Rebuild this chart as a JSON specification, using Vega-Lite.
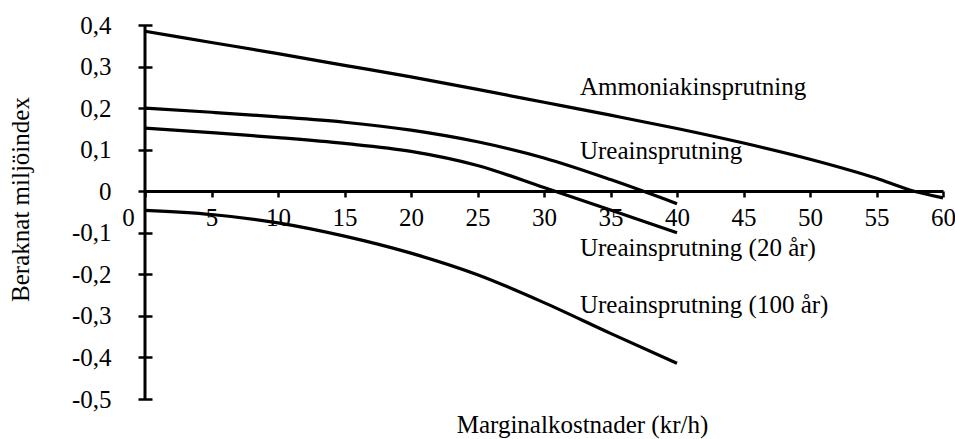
{
  "$schema": "https://vega.github.io/schema/vega-lite/v6.json",
  "width": 798,
  "height": 374,
  "autosize": "none",
  "padding": {"left": 145, "top": 25, "right": 12, "bottom": 40},
  "background": "white",
  "config": {
    "view": {"stroke": null},
    "font": "Liberation Serif",
    "axis": {
      "grid": false,
      "labelFont": "Liberation Serif",
      "titleFont": "Liberation Serif",
      "labelColor": "black",
      "titleColor": "black",
      "domainColor": "black",
      "tickColor": "black",
      "labelFontWeight": "normal",
      "titleFontWeight": "normal",
      "labelFlush": false,
      "labelOverlap": false
    }
  },
  "datasets": {
    "curves": [
      {"serie": "Ammoniakinsprutning", "kostnad": 0, "index": 0.385},
      {"serie": "Ammoniakinsprutning", "kostnad": 5, "index": 0.358},
      {"serie": "Ammoniakinsprutning", "kostnad": 10, "index": 0.331},
      {"serie": "Ammoniakinsprutning", "kostnad": 15, "index": 0.303},
      {"serie": "Ammoniakinsprutning", "kostnad": 20, "index": 0.275},
      {"serie": "Ammoniakinsprutning", "kostnad": 25, "index": 0.245},
      {"serie": "Ammoniakinsprutning", "kostnad": 30, "index": 0.214},
      {"serie": "Ammoniakinsprutning", "kostnad": 35, "index": 0.183},
      {"serie": "Ammoniakinsprutning", "kostnad": 40, "index": 0.151},
      {"serie": "Ammoniakinsprutning", "kostnad": 45, "index": 0.116},
      {"serie": "Ammoniakinsprutning", "kostnad": 50, "index": 0.077},
      {"serie": "Ammoniakinsprutning", "kostnad": 55, "index": 0.031},
      {"serie": "Ammoniakinsprutning", "kostnad": 57.5, "index": 0.003},
      {"serie": "Ammoniakinsprutning", "kostnad": 60, "index": -0.016},
      {"serie": "Ureainsprutning", "kostnad": 0, "index": 0.2},
      {"serie": "Ureainsprutning", "kostnad": 5, "index": 0.19},
      {"serie": "Ureainsprutning", "kostnad": 10, "index": 0.179},
      {"serie": "Ureainsprutning", "kostnad": 15, "index": 0.166},
      {"serie": "Ureainsprutning", "kostnad": 20, "index": 0.147},
      {"serie": "Ureainsprutning", "kostnad": 25, "index": 0.119},
      {"serie": "Ureainsprutning", "kostnad": 30, "index": 0.08},
      {"serie": "Ureainsprutning", "kostnad": 35, "index": 0.028},
      {"serie": "Ureainsprutning", "kostnad": 40, "index": -0.03},
      {"serie": "Ureainsprutning (20 år)", "kostnad": 0, "index": 0.152},
      {"serie": "Ureainsprutning (20 år)", "kostnad": 5, "index": 0.141},
      {"serie": "Ureainsprutning (20 år)", "kostnad": 10, "index": 0.129},
      {"serie": "Ureainsprutning (20 år)", "kostnad": 15, "index": 0.115},
      {"serie": "Ureainsprutning (20 år)", "kostnad": 20, "index": 0.096},
      {"serie": "Ureainsprutning (20 år)", "kostnad": 25, "index": 0.062},
      {"serie": "Ureainsprutning (20 år)", "kostnad": 30, "index": 0.009},
      {"serie": "Ureainsprutning (20 år)", "kostnad": 35, "index": -0.045},
      {"serie": "Ureainsprutning (20 år)", "kostnad": 40, "index": -0.1},
      {"serie": "Ureainsprutning (100 år)", "kostnad": 0, "index": -0.046},
      {"serie": "Ureainsprutning (100 år)", "kostnad": 5, "index": -0.056},
      {"serie": "Ureainsprutning (100 år)", "kostnad": 10, "index": -0.076},
      {"serie": "Ureainsprutning (100 år)", "kostnad": 15, "index": -0.108},
      {"serie": "Ureainsprutning (100 år)", "kostnad": 20, "index": -0.149},
      {"serie": "Ureainsprutning (100 år)", "kostnad": 25, "index": -0.201},
      {"serie": "Ureainsprutning (100 år)", "kostnad": 30, "index": -0.268},
      {"serie": "Ureainsprutning (100 år)", "kostnad": 35, "index": -0.342},
      {"serie": "Ureainsprutning (100 år)", "kostnad": 40, "index": -0.414}
    ],
    "labels": [
      {"text": "Ammoniakinsprutning", "kostnad": 32.7, "index": 0.231},
      {"text": "Ureainsprutning", "kostnad": 32.7, "index": 0.077},
      {"text": "Ureainsprutning (20 år)", "kostnad": 32.7, "index": -0.157},
      {"text": "Ureainsprutning (100 år)", "kostnad": 32.7, "index": -0.292}
    ],
    "yaxis": [
      {"kostnad": 0, "index": -0.5, "index2": 0.4}
    ]
  },
  "encoding": {
    "x": {
      "field": "kostnad",
      "type": "quantitative",
      "scale": {"domain": [0, 60], "nice": false, "zero": false},
      "axis": {
        "values": [0, 5, 10, 15, 20, 25, 30, 35, 40, 45, 50, 55, 60],
        "format": "d",
        "offset": -208,
        "tickSize": 6,
        "tickWidth": 2.5,
        "domainWidth": 3,
        "labelPadding": 8,
        "labelBaseline": "top",
        "labelFontSize": 25,
        "labelOffset": {"condition": {"test": "datum.value == 0", "value": -17}, "value": 0},
        "title": "Marginalkostnader (kr/h)",
        "titleFontSize": 25,
        "titleX": 437,
        "titleY": 241,
        "titleAlign": "center",
        "titleBaseline": "alphabetic"
      }
    },
    "y": {
      "field": "index",
      "type": "quantitative",
      "scale": {"domain": [-0.5, 0.4], "nice": false, "zero": false},
      "axis": {
        "values": [-0.5, -0.4, -0.3, -0.2, -0.1, 0, 0.1, 0.2, 0.3, 0.4],
        "labelExpr": "datum.value == 0 ? '0' : replace(toString(round(datum.value * 10) / 10), '.', ',')",
        "domain": false,
        "offset": -7,
        "tickSize": 14,
        "tickWidth": 2.5,
        "labelPadding": 27,
        "labelFontSize": 25,
        "labelBaseline": "middle",
        "title": "Beraknat miljöindex",
        "titleFontSize": 25,
        "titleAngle": -90,
        "titleX": -123.5,
        "titleY": 174,
        "titleAlign": "center",
        "titleBaseline": "alphabetic"
      }
    }
  },
  "layer": [
    {
      "data": {"name": "yaxis"},
      "mark": {"type": "rule", "color": "black", "strokeWidth": 3},
      "encoding": {
        "y2": {"field": "index2"}
      }
    },
    {
      "data": {"name": "curves"},
      "mark": {"type": "line", "interpolate": "monotone", "color": "black", "strokeWidth": 3.2},
      "encoding": {
        "detail": {"field": "serie"}
      }
    },
    {
      "data": {"name": "labels"},
      "mark": {"type": "text", "align": "left", "baseline": "alphabetic", "fontSize": 25, "font": "Liberation Serif", "color": "black"},
      "encoding": {
        "text": {"field": "text"}
      }
    }
  ]
}
